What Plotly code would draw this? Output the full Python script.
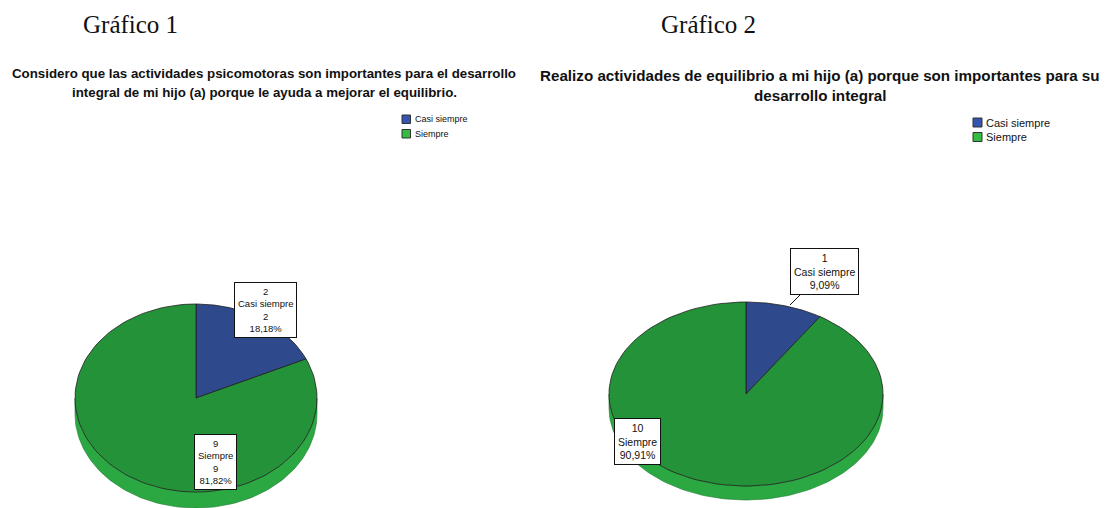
import numpy as np
import plotly.graph_objects as go

categories = ["Casi siempre", "Siempre"]
values_1 = [2, 9]
values_2 = [1, 10]
pct_1 = ["18,18%", "81,82%"]
pct_2 = ["9,09%", "90,91%"]
header_1 = "Gráfico 1"
header_2 = "Gráfico 2"
title_1 = ["Considero que las actividades psicomotoras son importantes para el desarrollo",
           "integral de mi hijo (a) porque le ayuda a mejorar el equilibrio."]
title_2 = ["Realizo actividades de equilibrio a mi hijo (a) porque son importantes para su",
           "desarrollo integral"]

top_colors = ["#2F4A8C", "#249239"]
side_colors = ["#3D5BA8", "#2CA843"]
legend_colors = ["#3355B0", "#33BB44"]
SANS = "Liberation Sans, Arial, sans-serif"

# page body has an 8px margin: map data coords to window pixels
OFF = 8
W, H = 1112, 508
fig = go.Figure()


def arc(cx, cy, rx, ry, a0, a1, n=120):
    a = np.radians(np.linspace(a0, a1, n))
    return cx + rx * np.sin(a), cy - ry * np.cos(a)


def add_pie(values, cx, cy, rx, ry, thick):
    total = sum(values)
    cum = np.concatenate([[0], np.cumsum(values)]) / total * 360.0
    for i in range(len(values)):
        a0, a1 = max(cum[i], 90), min(cum[i + 1], 270)
        if a1 > a0:
            xt, yt = arc(cx, cy, rx, ry, a0, a1)
            xb, yb = arc(cx, cy + thick, rx, ry, a1, a0)
            fig.add_trace(go.Scatter(
                x=np.concatenate([xt, xb, xt[:1]]), y=np.concatenate([yt, yb, yt[:1]]),
                fill="toself", fillcolor=side_colors[i], mode="lines",
                line=dict(color="#1E7A30", width=0.6), showlegend=False, hoverinfo="skip"))
    for i in range(len(values)):
        xs, ys = arc(cx, cy, rx, ry, cum[i], cum[i + 1])
        fig.add_trace(go.Scatter(
            x=np.concatenate([[cx], xs, [cx]]), y=np.concatenate([[cy], ys, [cy]]),
            fill="toself", fillcolor=top_colors[i], mode="lines",
            line=dict(color="#202020", width=0.8), name=categories[i],
            showlegend=False, hoverinfo="skip"))


add_pie(values_1, 196, 398, 121, 94, 16)
add_pie(values_2, 746, 394, 137, 92, 14)

box = dict(bgcolor="white", bordercolor="#111111", borderwidth=1, borderpad=3)
lab1 = dict(family=SANS, size=9.5, color="#111111")
lab2 = dict(family=SANS, size=10.5, color="#111111")

fig.add_annotation(x=265, y=310, showarrow=False,
                   text=f"{values_1[0]}<br>{categories[0]}<br>{values_1[0]}<br>{pct_1[0]}",
                   font=lab1, **box)
fig.add_annotation(x=215, y=462, showarrow=False,
                   text=f"{values_1[1]}<br>{categories[1]}<br>{values_1[1]}<br>{pct_1[1]}",
                   font=lab1, **box)
fig.add_annotation(x=790, y=305, showarrow=True, arrowhead=0, axref="pixel", ayref="pixel",
                   arrowwidth=1, arrowcolor="#111111", ax=34, ay=-34,
                   text=f"{values_2[0]}<br>{categories[0]}<br>{pct_2[0]}",
                   font=lab2, **box)
fig.add_annotation(x=637, y=441, showarrow=False,
                   text=f"{values_2[1]}<br>{categories[1]}<br>{pct_2[1]}",
                   font=lab2, **box)

serif = dict(family="Liberation Serif, Times New Roman, serif", size=25, color="#111111")
fig.add_annotation(x=130, y=24, text=header_1, showarrow=False, font=serif)
fig.add_annotation(x=708, y=24, text=header_2, showarrow=False, font=serif)

tfont1 = dict(family=SANS, size=13.3, color="#111111")
tfont2 = dict(family=SANS, size=15.2, color="#111111")
for line, yy in zip(title_1, [73, 92]):
    fig.add_annotation(x=264, y=yy, text=f"<b>{line}</b>", showarrow=False, font=tfont1)
for line, yy in zip(title_2, [75, 95]):
    fig.add_annotation(x=820, y=yy, text=f"<b>{line}</b>", showarrow=False, font=tfont2)

# legends (swatch + label) for each chart
for (lx, ly, fs, sw, gap) in [(402, 115, 9, 8.5, 14.5), (973, 118, 11, 9, 14.5)]:
    for i, cat in enumerate(categories):
        y0 = ly + i * gap
        fig.add_shape(type="rect", x0=lx, x1=lx + sw, y0=y0, y1=y0 + sw,
                      fillcolor=legend_colors[i], line=dict(color="#333333", width=1))
        fig.add_annotation(x=lx + sw + 2, y=y0 + sw / 2, text=cat, showarrow=False,
                           xanchor="left", yanchor="middle",
                           font=dict(family=SANS, size=fs, color="#111111"))

fig.update_layout(
    width=W - OFF, height=H - OFF, margin=dict(l=0, r=0, t=0, b=0),
    paper_bgcolor="white", plot_bgcolor="white", showlegend=False,
    xaxis=dict(range=[OFF, W], visible=False, fixedrange=True),
    yaxis=dict(range=[H, OFF], visible=False, fixedrange=True),
)
fig.write_html("out.html")
